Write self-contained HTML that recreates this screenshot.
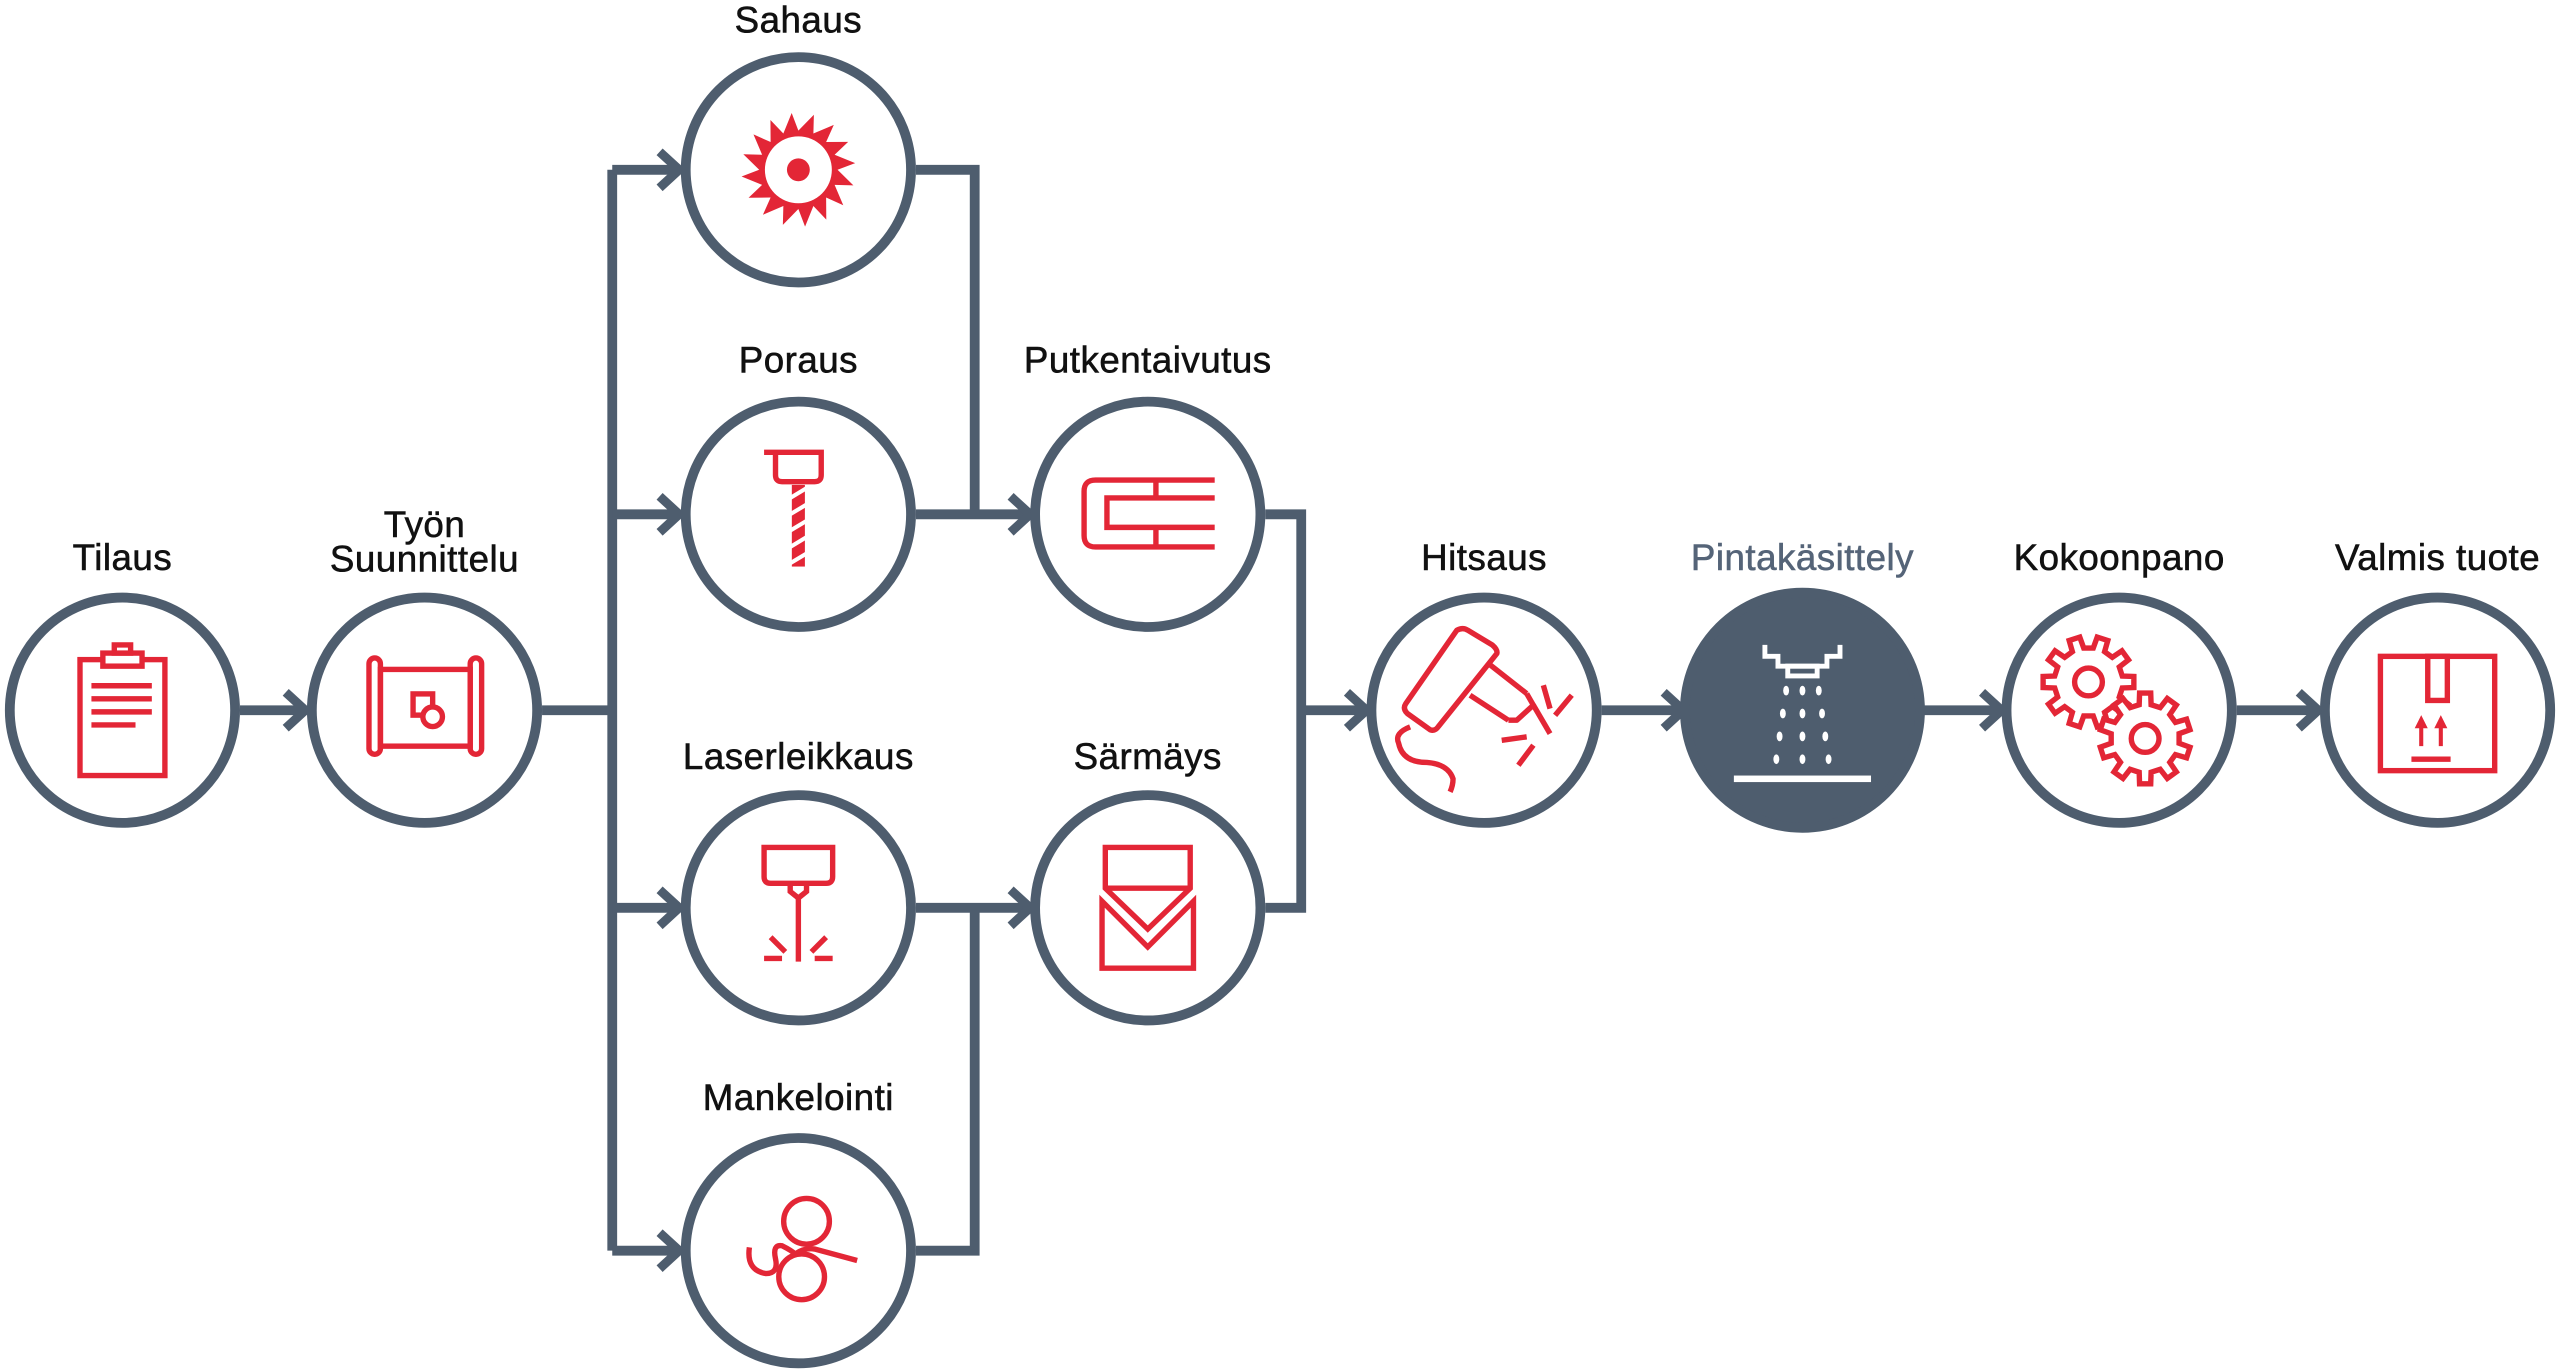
<!DOCTYPE html>
<html><head><meta charset="utf-8">
<style>
html,body{margin:0;padding:0;background:#fff;}
svg{display:block;}
text{font-family:"Liberation Sans",sans-serif;font-size:22.5px;fill:#111;stroke:#111;stroke-width:0.35;text-anchor:middle;letter-spacing:0.3px;}
</style></head>
<body>
<svg width="2560" height="1371" viewBox="0 0 1568 839.7" preserveAspectRatio="none" xmlns="http://www.w3.org/2000/svg">
<defs>
<polygon id="gear" points="20.68,-3.65 27.79,-3.41 27.79,3.41 20.68,3.65 18.87,9.21 24.49,13.57 20.48,19.10 14.59,15.11 9.86,18.54 11.83,25.38 5.34,27.49 2.92,20.80 -2.92,20.80 -5.34,27.49 -11.83,25.38 -9.86,18.54 -14.59,15.11 -20.48,19.10 -24.49,13.57 -18.87,9.21 -20.68,3.65 -27.79,3.41 -27.79,-3.41 -20.68,-3.65 -18.87,-9.21 -24.49,-13.57 -20.48,-19.10 -14.59,-15.11 -9.86,-18.54 -11.83,-25.38 -5.34,-27.49 -2.92,-20.80 2.92,-20.80 5.34,-27.49 11.83,-25.38 9.86,-18.54 14.59,-15.11 20.48,-19.10 24.49,-13.57 18.87,-9.21"/>
</defs>
<g fill="none" stroke="#4e5d6e" stroke-width="6">
  <path d="M147 435H186"/>
  <path d="M332 435H375"/>
  <path d="M375 104V766"/>
  <path d="M375 104H414M375 315H414M375 556H414M375 766H414"/>
  <path d="M561 104H597V315M561 315H629"/>
  <path d="M561 556H629M561 766H597V556"/>
  <path d="M775 315H797V556H775M797 435H834"/>
  <path d="M981 435H1029M1176 435H1224M1370 435H1418"/>
  <g stroke-width="5.5">
  <path d="M175 424L187 435L175 446"/>
  <path d="M404 93L416 104L404 115"/>
  <path d="M404 304L416 315L404 326"/>
  <path d="M404 545L416 556L404 567"/>
  <path d="M404 755L416 766L404 777"/>
  <path d="M619 304L631 315L619 326"/>
  <path d="M619 545L631 556L619 567"/>
  <path d="M825 424L837 435L825 446"/>
  <path d="M1019 424L1031 435L1019 446"/>
  <path d="M1214 424L1226 435L1214 446"/>
  <path d="M1408 424L1420 435L1408 446"/>
  </g>
  <circle cx="75" cy="435" r="69"/>
  <circle cx="260" cy="435" r="69"/>
  <circle cx="489" cy="104" r="69"/>
  <circle cx="489" cy="315" r="69"/>
  <circle cx="489" cy="556" r="69"/>
  <circle cx="489" cy="766" r="69"/>
  <circle cx="703" cy="315" r="69"/>
  <circle cx="703" cy="556" r="69"/>
  <circle cx="909" cy="435" r="69"/>
  <circle cx="1104" cy="435" r="72" fill="#4e5d6e"/>
  <circle cx="1298" cy="435" r="69"/>
  <circle cx="1493" cy="435" r="69"/>
</g>

<text x="75" y="349">Tilaus</text>
<text x="260" y="329">Työn</text>
<text x="260" y="350">Suunnittelu</text>
<text x="489" y="20">Sahaus</text>
<text x="489" y="228">Poraus</text>
<text x="703" y="228">Putkentaivutus</text>
<text x="489" y="471">Laserleikkaus</text>
<text x="703" y="471">Särmäys</text>
<text x="489" y="680">Mankelointi</text>
<text x="909" y="349">Hitsaus</text>
<text x="1104" y="349" style="fill:#556478;stroke:#556478">Pintakäsittely</text>
<text x="1298" y="349">Kokoonpano</text>
<text x="1493" y="349">Valmis tuote</text>

<g fill="none" stroke="#e32636" stroke-width="3.3">
  <g transform="translate(75,435)">
    <rect x="-26" y="-31" width="52" height="71"/>
    <rect x="-12" y="-35" width="24" height="8" fill="#fff"/>
    <rect x="-5" y="-40" width="10" height="5" fill="#fff"/>
    <path d="M-19 -15H18M-19 -7H18M-19 1H18M-19 9H8"/>
  </g>
  <g transform="translate(260,435)">
    <rect x="-34" y="-32" width="7" height="59" rx="3.5"/>
    <rect x="28" y="-32" width="7" height="59" rx="3.5"/>
    <rect x="-27" y="-25" width="55" height="47"/>
    <rect x="-7" y="-10" width="12" height="13"/>
    <circle cx="5" cy="4" r="6" fill="#fff"/>
  </g>
  <g transform="translate(489,104)">
    <polygon fill="#e32636" stroke="none" points="24,0 33.7,9.5 22.2,9.2 27.5,21.7 17,17 17.1,30.5 9.2,22.2 4.1,34.8 0,24 -9.5,33.7 -9.2,22.2 -21.7,27.5 -17,17 -30.5,17.1 -22.2,9.2 -34.8,4.1 -24,0 -33.7,-9.5 -22.2,-9.2 -27.5,-21.7 -17,-17 -17.1,-30.5 -9.2,-22.2 -4.1,-34.8 0,-24 9.5,-33.7 9.2,-22.2 21.7,-27.5 17,-17 30.5,-17.1 22.2,-9.2 34.8,-4.1"/>
    <circle r="20.5" fill="#fff" stroke="none"/>
    <circle r="7" fill="#e32636" stroke="none"/>
  </g>
  <g transform="translate(489,315)">
    <path d="M-21 -38H14V-24Q14 -20 10 -20H-10Q-14 -20 -14 -24V-38"/>
    <rect x="-4" y="-18" width="8" height="50" fill="#e32636" stroke="none"/>
    <path d="M-5 -10L5 -16M-5 0L5 -6M-5 10L5 4M-5 20L5 14M-5 30L5 24" stroke="#fff" stroke-width="2.5"/>
  </g>
  <g transform="translate(703,315)">
    <path d="M41 -21H-32Q-39 -21 -39 -14V13Q-39 20 -32 20H41"/>
    <path d="M41 -10H-25V8H41"/>
    <path d="M5 -21V-10M5 8V20"/>
  </g>
  <g transform="translate(489,556)">
    <path d="M-21 -37H21V-19Q21 -15 17 -15H-17Q-21 -15 -21 -19Z"/>
    <path d="M-5 -15V-10L0 -6L5 -10V-15"/>
    <path d="M0 -6V33M-21 31H-10M10 31H21M-17 18L-8 27M17 18L8 27"/>
  </g>
  <g transform="translate(703,556)">
    <path d="M-26 -37H26V-12L0 13L-26 -12Z"/>
    <path d="M-26 -12H26"/>
    <path d="M-28 -4V37H28V-4L0 24Z"/>
  </g>
  <g transform="translate(489,766)">
    <circle cx="5" cy="-18" r="14"/>
    <circle cx="2" cy="16" r="14"/>
    <path d="M-30 -2Q-32 12 -20 14Q-12 14 -14 5Q-16 -4 -10 -3Q-4 0 -2 2Q4 -2 10 -1L36 6"/>
  </g>
  <g transform="translate(909,435)" stroke-linejoin="round">
    <path d="M-16.7 -49Q-13 -51 -10 -49L5 -40Q8.5 -37 7.8 -34.7L-28 10Q-30 13 -33 12L-47 2Q-50 -1 -48 -4Z"/>
    <path d="M3.7 -27.8L26.1 -10.2M-8.6 -9.2L14.9 6.1"/>
    <path d="M26.1 -10.2L30.2 -3.1L20 6.1L14.9 6.1"/>
    <path d="M30.2 -3.1L40.4 14.3" stroke-linecap="butt"/>
    <path d="M-45.3 10.2Q-55 14 -52.4 20Q-50 32 -35 32Q-22 33 -19 42Q-19 46 -20.8 50"/>
    <path d="M36.3 -15.3L40.4 -1M53.7 -9.2L43.5 3.1M10.8 18.4L26.1 16.3M30.2 21.4L21 33.7"/>
  </g>
  <g transform="translate(1298,435)">
    <use href="#gear" transform="translate(-18.8,-17.3)" fill="#fff"/>
    <circle cx="-18.8" cy="-17.3" r="8.5"/>
    <use href="#gear" transform="translate(15.9,17.3) rotate(18)" fill="#fff"/>
    <circle cx="15.9" cy="17.3" r="8.5"/>
  </g>
  <g transform="translate(1493,435)">
    <rect x="-35" y="-33" width="70" height="70"/>
    <rect x="-6" y="-33" width="12" height="27" fill="#fff"/>
    <path d="M-16 30H8"/>
    <path d="M-10 22V8M2 22V8" stroke-width="2.5"/>
    <path d="M-14 11L-10 3L-6 11ZM-2 11L2 3L6 11Z" fill="#e32636" stroke="none"/>
  </g>
</g>

<g transform="translate(1104,435)" fill="#fff" stroke="#fff">
  <path d="M-23 -40V-33H-15V-27H15V-33H23V-40" fill="none" stroke-width="3"/>
  <rect x="-9" y="-27" width="18" height="6" fill="none" stroke-width="3"/>
  <g stroke="none">
    <ellipse cx="-10" cy="-12" rx="1.8" ry="3"/><ellipse cx="0" cy="-12" rx="1.8" ry="3"/><ellipse cx="10" cy="-12" rx="1.8" ry="3"/>
    <ellipse cx="-12" cy="2" rx="1.8" ry="3"/><ellipse cx="0" cy="2" rx="1.8" ry="3"/><ellipse cx="12" cy="2" rx="1.8" ry="3"/>
    <ellipse cx="-14" cy="16" rx="1.8" ry="3"/><ellipse cx="0" cy="16" rx="1.8" ry="3"/><ellipse cx="14" cy="16" rx="1.8" ry="3"/>
    <ellipse cx="-16" cy="30" rx="1.8" ry="3"/><ellipse cx="0" cy="30" rx="1.8" ry="3"/><ellipse cx="16" cy="30" rx="1.8" ry="3"/>
  </g>
  <rect x="-42" y="40" width="84" height="4" stroke="none"/>
</g>
</svg>
</body></html>
